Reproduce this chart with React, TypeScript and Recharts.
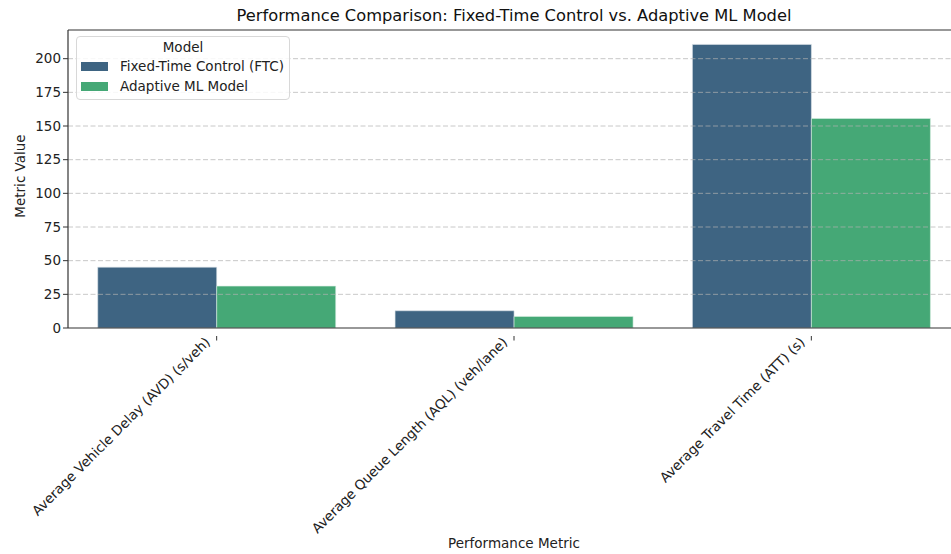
import { BarChart, Bar, XAxis, YAxis, ReferenceLine } from 'recharts';

const metrics = [
  'Average Vehicle Delay (AVD) (s/veh)',
  'Average Queue Length (AQL) (veh/lane)',
  'Average Travel Time (ATT) (s)',
];
const ftcValues = [45.2, 12.8, 210.6];
const mlValues = [31.1, 8.6, 155.6];
const yTicks = [0, 25, 50, 75, 100, 125, 150, 175, 200];
const Y_MAX = 221.3;

const FTC_COLOR = '#3e6482';
const ML_COLOR = '#45a876';
const FONT = '"DejaVu Sans", sans-serif';

const data = metrics.map((m, i) => ({ metric: m, ftc: ftcValues[i], ml: mlValues[i] }));

function RotatedTick({ x, y, payload }: any) {
  return (
    <g transform={`translate(${x},${y})`}>
      <line x1={0} y1={0} x2={0} y2={4.5} stroke="#333" strokeWidth={1} />
      <text
        x={0}
        y={0}
        dx={-9}
        dy={1}
        textAnchor="end"
        transform="rotate(-45)"
        fontSize={13.5}
        fontFamily={FONT}
        fill="#222"
      >
        {payload.value}
      </text>
    </g>
  );
}

function LegendBox() {
  return (
    <div
      style={{
        position: 'absolute',
        left: 76,
        top: 36,
        width: 212,
        height: 62,
        border: '1px solid #d8d8d8',
        borderRadius: 4,
        background: 'rgba(255,255,255,0.85)',
        fontFamily: FONT,
        fontSize: 13.5,
        color: '#222',
      }}
    >
      <div style={{ textAlign: 'center', marginTop: 2, lineHeight: '17px' }}>Model</div>
      {[
        ['Fixed-Time Control (FTC)', FTC_COLOR],
        ['Adaptive ML Model', ML_COLOR],
      ].map(([label, color]) => (
        <div key={label} style={{ display: 'flex', alignItems: 'center', height: 20 }}>
          <span style={{ display: 'inline-block', width: 27, height: 9, background: color, marginLeft: 4, marginRight: 12 }} />
          <span>{label}</span>
        </div>
      ))}
    </div>
  );
}

export default function App() {
  return (
    <div style={{ position: 'fixed', left: 0, top: 0, width: 951, height: 554, overflow: 'hidden', background: '#fff' }}>
      <div
        style={{
          position: 'absolute',
          left: 0,
          width: 1028,
          top: 6,
          textAlign: 'center',
          fontFamily: FONT,
          fontSize: 16.3,
          color: '#111',
        }}
      >
        Performance Comparison: Fixed-Time Control vs. Adaptive ML Model
      </div>
      <div
        style={{
          position: 'absolute',
          left: 20 - 60,
          top: 178 - 10,
          width: 120,
          textAlign: 'center',
          transform: 'rotate(-90deg)',
          fontFamily: FONT,
          fontSize: 13.5,
          color: '#222',
        }}
      >
        Metric Value
      </div>
      <div
        style={{
          position: 'absolute',
          left: 0,
          width: 1028,
          top: 535,
          textAlign: 'center',
          fontFamily: FONT,
          fontSize: 13.5,
          color: '#222',
        }}
      >
        Performance Metric
      </div>
      <div style={{ position: 'absolute', left: 0, top: 0 }}>
        <BarChart
          width={970}
          height={554}
          data={data}
          margin={{ top: 30, right: 10, left: 0, bottom: 0 }}
          barCategoryGap="10%"
          barGap={0}
        >
          <Bar dataKey="ftc" fill={FTC_COLOR} stroke="#dde4ea" strokeWidth={0.6} isAnimationActive={false} />
          <Bar dataKey="ml" fill={ML_COLOR} stroke="#d8efe2" strokeWidth={0.6} isAnimationActive={false} />
          {yTicks.slice(1).map((t) => (
            <ReferenceLine key={t} y={t} stroke="#b0b0b0" strokeOpacity={0.7} strokeDasharray="5 2.5" />
          ))}
          <XAxis
            dataKey="metric"
            interval={0}
            height={226}
            tick={<RotatedTick />}
            tickLine={false}
            axisLine={{ stroke: '#333', strokeWidth: 1.2 }}
          />
          <YAxis
            type="number"
            domain={[0, Y_MAX]}
            ticks={yTicks}
            width={68}
            tick={{ fontSize: 13.5, fontFamily: FONT, fill: '#222' }}
            tickSize={5}
            tickLine={{ stroke: '#333' }}
            axisLine={{ stroke: '#333', strokeWidth: 1.2 }}
            allowDataOverflow
          />
          <ReferenceLine y={Y_MAX} stroke="#333" strokeWidth={1.2} />
        </BarChart>
      </div>
      <LegendBox />
    </div>
  );
}
